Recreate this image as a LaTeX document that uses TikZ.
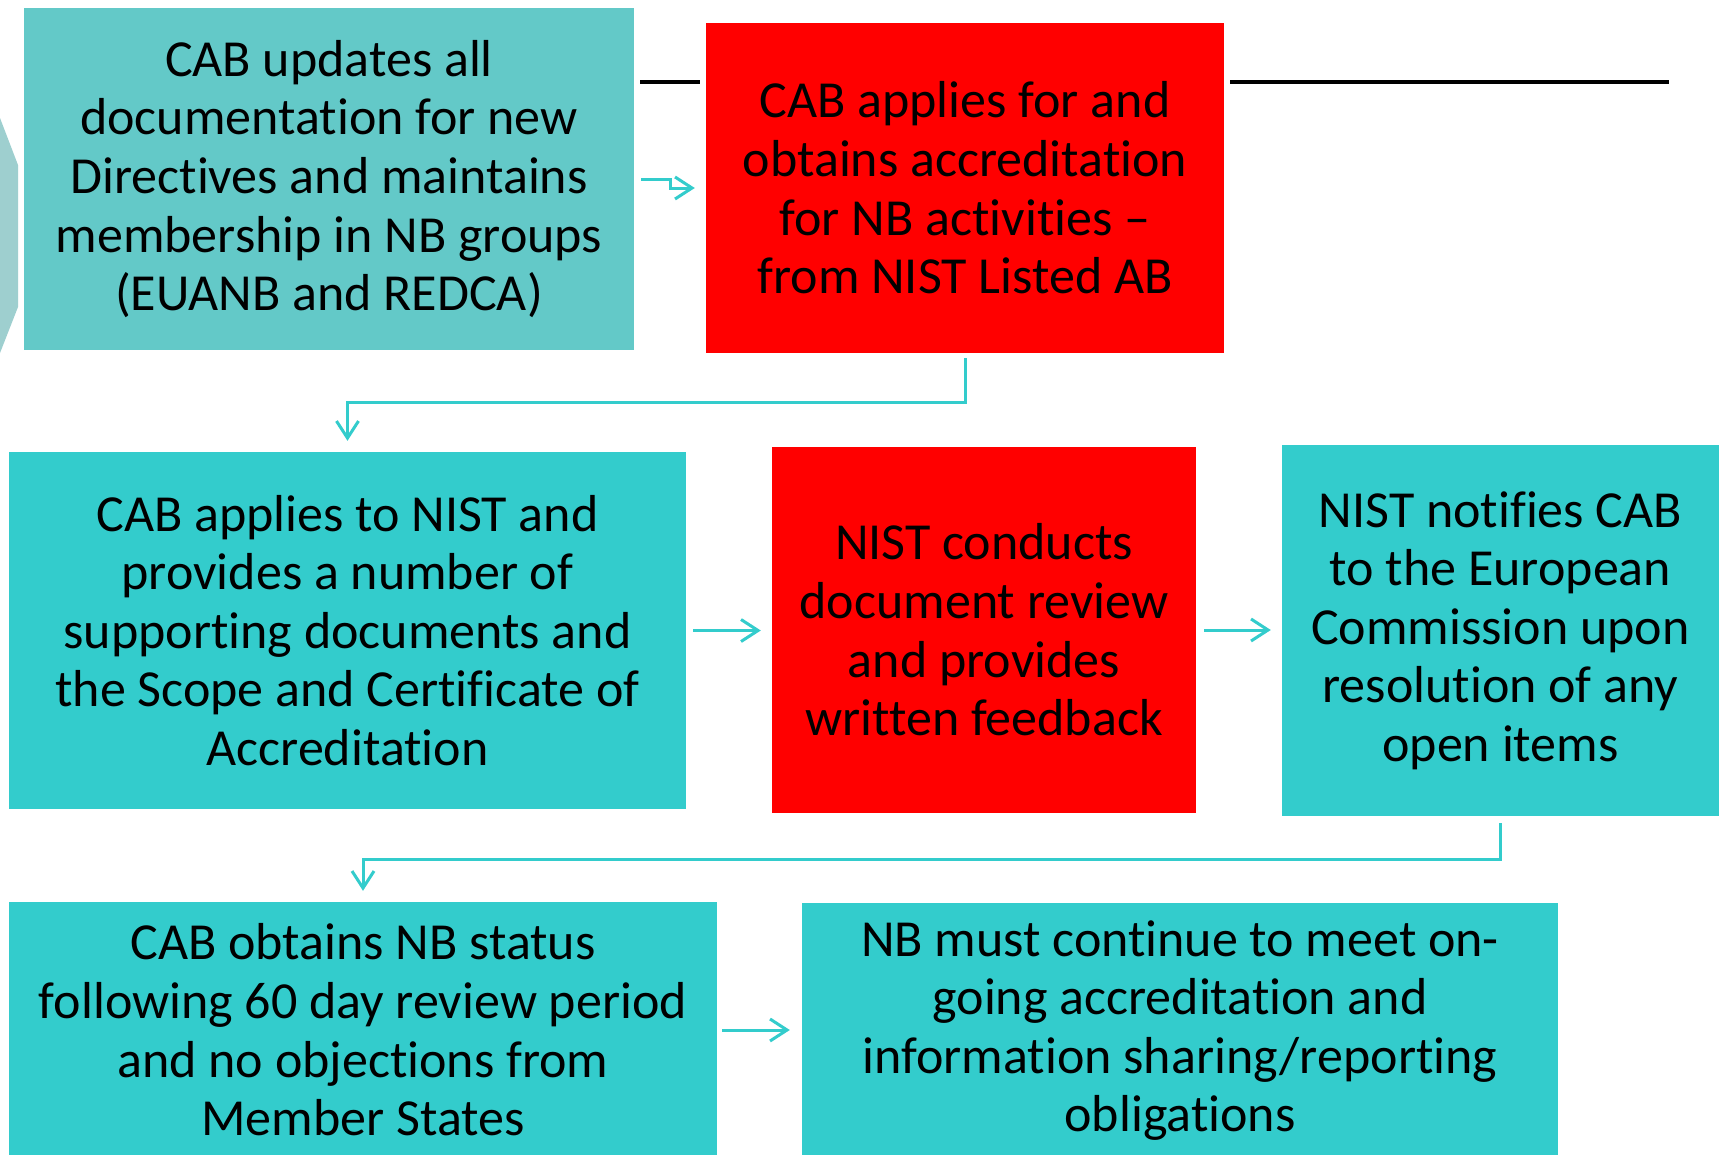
\documentclass[tikz,border=0pt]{standalone}
\usepackage{fontspec}
\setmainfont{Carlito}[Ligatures=NoCommon]
\usetikzlibrary{arrows.meta}
\definecolor{tealmain}{RGB}{51,204,204}
\definecolor{teallight}{RGB}{99,201,200}
\definecolor{tealgrey}{RGB}{158,207,207}
\definecolor{redbox}{RGB}{255,0,0}
\tikzset{
  box/.style={rectangle, inner sep=0pt, align=center, text=black,
    font=\fontsize{52bp}{58.6bp}\selectfont},
  conn/.style={draw=tealmain, line width=3bp,
    -{Straight Barb[length=17bp,width=22bp,line width=3bp]}},
  rule/.style={draw=black, line width=3.2bp}
}
\begin{document}
\begin{tikzpicture}[x=1bp,y=-1bp]
\clip (0,0) rectangle (1721,1154);
\fill[white] (0,0) rectangle (1721,1154);

% edge of the large shape at the left margin
\fill[tealgrey] (0,118) -- (18,165) -- (18,307) -- (0,353) -- cycle;

% process steps
\node[box, fill=teallight, minimum width=610bp, minimum height=342bp] (b1) at (329,179)
  {CAB updates all\\documentation for new\\Directives and maintains\\membership in NB groups\\(EUANB and REDCA)};
\node[box, fill=redbox, minimum width=518bp, minimum height=330bp] (b2) at (965,188)
  {CAB applies for and\\obtains accreditation\\for NB activities –\\from NIST Listed AB};
\node[box, fill=tealmain, minimum width=677bp, minimum height=357bp] (b3) at (347.5,630.5)
  {CAB applies to NIST and\\provides a number of\\supporting documents and\\the Scope and Certificate of\\Accreditation};
\node[box, fill=redbox, minimum width=424bp, minimum height=366bp] (b4) at (984,630)
  {NIST conducts\\document review\\and provides\\written feedback};
\node[box, fill=tealmain, minimum width=437bp, minimum height=371bp] (b5) at (1500.5,630.5)
  {NIST notifies CAB\\to the European\\Commission upon\\resolution of any\\open items};
\node[box, fill=tealmain, minimum width=708bp, minimum height=256bp] (b6) at (363,1030)
  {CAB obtains NB status\\following 60 day review period\\and no objections from\\Member States};
\node[box, fill=tealmain, minimum width=756bp, minimum height=255bp] (b7) at (1180,1030.5)
  {NB must continue to meet on-\\going accreditation and\\information sharing/reporting\\obligations};

% black rules on either side of the accreditation step
\coordinate (r1a) at (640,82);
\coordinate (r1b) at (700,82);
\coordinate (r2a) at (1230,82);
\coordinate (r2b) at (1669,82);
\draw[rule] (r1a) -- (r1b);
\draw[rule] (r2a) -- (r2b);

% connectors
\draw[conn, shorten <=7bp, shorten >=11bp] (b1.east) -- ++(36,0) |- (b2.west);
\draw[conn, shorten <=5bp, shorten >=11bp] (b2.south) -- ++(0,49) -| (b3.north);
\draw[conn, shorten <=7bp, shorten >=11bp] (b3.east) -- (b3.east -| b4.west);
\draw[conn, shorten <=8bp, shorten >=11bp] (b4.east) -- (b4.east -| b5.west);
\draw[conn, shorten <=7bp, shorten >=11bp] (b5.south) -- ++(0,43) -| (b6.north);
\draw[conn, shorten <=5bp, shorten >=12bp] (b6.east) -- (b6.east -| b7.west);
\end{tikzpicture}
\end{document}
